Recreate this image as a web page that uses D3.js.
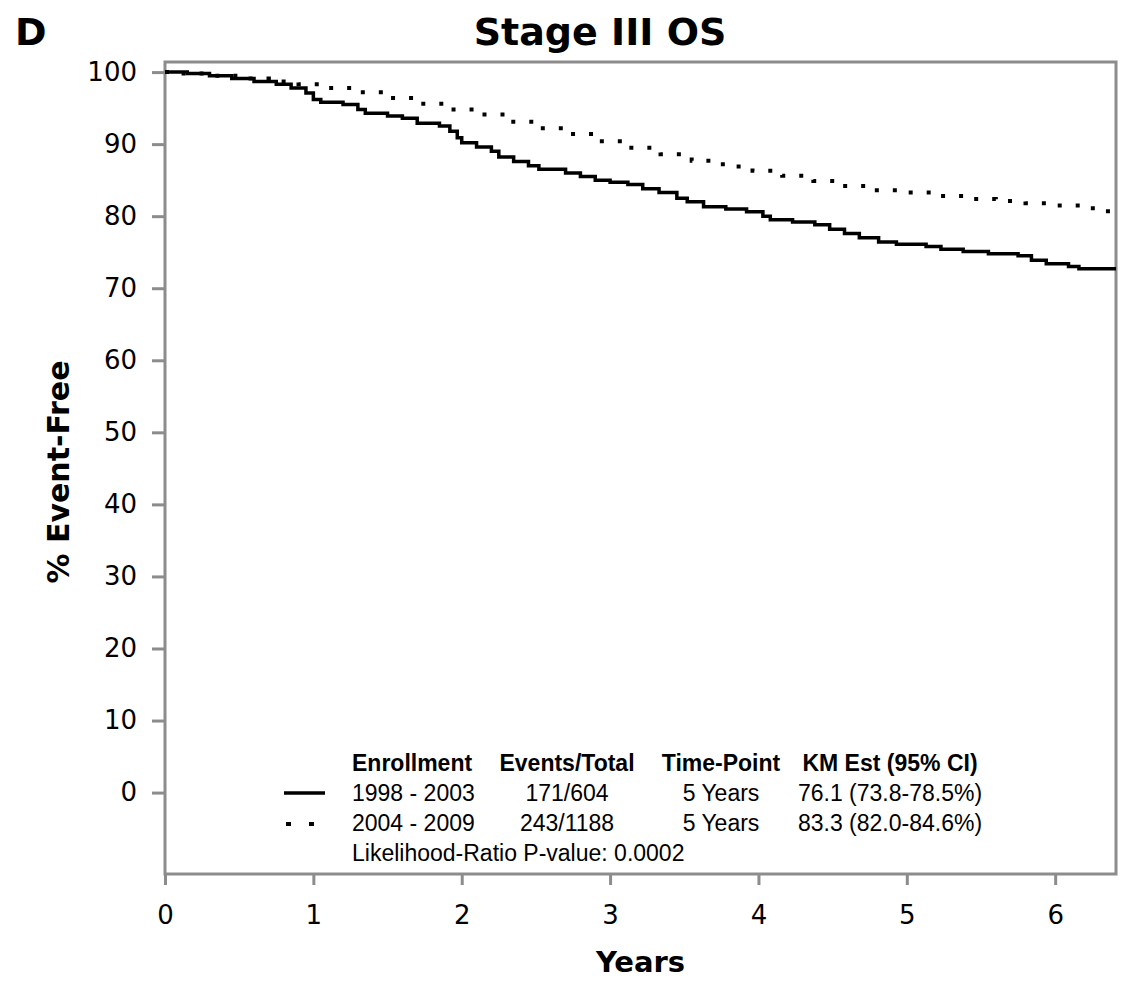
<!DOCTYPE html>
<html>
<head>
<meta charset="utf-8">
<script src="https://cdn.jsdelivr.net/npm/d3@7/dist/d3.min.js"></script>
<style>
  html, body { margin: 0; padding: 0; background: #fff; }
  svg { display: block; }
  .legend text { font-family: "Liberation Sans", Arial, sans-serif; font-size: 23px; fill: #000; }
</style>
</head>
<body>
<svg id="chart" width="1131" height="990"></svg>
<script>
// ===== DATA =====
// 1998 - 2003 cohort, KM step points: years / % event-free
const early_t = [0, 0.15, 0.3, 0.45, 0.6, 0.75, 0.85, 0.95, 1.0, 1.05, 1.2, 1.3, 1.35, 1.5, 1.6, 1.7, 1.85, 1.92, 1.97, 2.0,
                 2.1, 2.2, 2.25, 2.35, 2.45, 2.52, 2.7, 2.8, 2.9, 3.0, 3.12, 3.22, 3.33, 3.45, 3.52, 3.63, 3.78, 3.92, 4.03, 4.08,
                 4.23, 4.38, 4.48, 4.58, 4.68, 4.81, 4.93, 5.13, 5.23, 5.38, 5.55, 5.75, 5.84, 5.94, 6.09, 6.16, 6.41];
const early_s = [100, 99.8, 99.5, 99.1, 98.7, 98.3, 97.8, 97.1, 96.2, 95.8, 95.5, 94.8, 94.3, 93.9, 93.6, 92.9, 92.5, 91.8, 90.9, 90.2,
                 89.6, 89.0, 88.2, 87.6, 87.0, 86.5, 86.0, 85.5, 85.0, 84.7, 84.4, 83.8, 83.3, 82.5, 82.0, 81.3, 81.0, 80.6, 80.0, 79.5,
                 79.2, 78.8, 78.2, 77.6, 77.0, 76.4, 76.1, 75.8, 75.4, 75.1, 74.8, 74.5, 73.9, 73.4, 73.0, 72.7, 72.7];
// 2004 - 2009 cohort
const late_t = [0, 0.1, 0.3, 0.5, 0.7, 0.9, 1.1, 1.3, 1.5, 1.7, 1.9, 2.1, 2.3, 2.5, 2.7, 2.9, 3.12, 3.34,
                3.55, 3.76, 3.96, 4.16, 4.37, 4.57, 4.78, 4.98, 5.19, 5.39, 5.6, 5.8, 6.0, 6.2, 6.32, 6.41];
const late_s = [100, 99.8, 99.5, 99.1, 98.7, 98.3, 97.8, 97.2, 96.4, 95.6, 94.8, 94.1, 93.1, 92.2, 91.4, 90.4, 89.5, 88.6,
                87.7, 86.9, 86.3, 85.6, 84.9, 84.2, 83.6, 83.3, 82.8, 82.4, 82.1, 81.8, 81.5, 81.1, 80.7, 80.5];

const xTicks = [0, 1, 2, 3, 4, 5, 6];
const yTicks = [0, 10, 20, 30, 40, 50, 60, 70, 80, 90, 100];

const legendHeader = ['Enrollment', 'Events/Total', 'Time-Point', 'KM Est (95% CI)'];
const legendRows = [
  ['1998 - 2003', '171/604', '5 Years', '76.1 (73.8-78.5%)'],
  ['2004 - 2009', '243/1188', '5 Years', '83.3 (82.0-84.6%)']
];
const pValueText = 'Likelihood-Ratio P-value: 0.0002';

// ===== LAYOUT =====
const W = 1131, H = 990;
const M = { left: 165, right: 15, top: 62, bottom: 116 };
const AXIS_GREY = '#8c8c8c';
const MAIN_FONT = '"DejaVu Sans", Verdana, sans-serif';

const svg = d3.select('#chart');

const x = d3.scaleLinear().domain([0, 6.41]).range([M.left, W - M.right]);
const y = d3.scaleLinear().domain([-11.3, 101.4]).range([H - M.bottom, M.top]);

// ----- axes -----
const yAxis = d3.axisLeft(y).tickValues(yTicks).tickSizeInner(13).tickSizeOuter(0).tickPadding(15);
const xAxis = d3.axisBottom(x).tickValues(xTicks).tickFormat(d3.format('d'))
  .tickSizeInner(11).tickSizeOuter(0).tickPadding(21);

const gy = svg.append('g').attr('transform', `translate(${M.left},0)`).call(yAxis);
const gx = svg.append('g').attr('transform', `translate(0,${H - M.bottom})`).call(xAxis);

[gy, gx].forEach(g => {
  g.select('.domain').remove();
  g.selectAll('.tick line').attr('stroke', AXIS_GREY).attr('stroke-width', 3);
  g.selectAll('.tick text')
    .attr('fill', '#000')
    .style('font-family', MAIN_FONT)
    .style('font-size', '26px');
});

// plot frame
svg.append('rect')
  .attr('x', M.left)
  .attr('y', M.top)
  .attr('width', W - M.right - M.left)
  .attr('height', H - M.bottom - M.top)
  .attr('fill', 'none')
  .attr('stroke', AXIS_GREY)
  .attr('stroke-width', 3);

// ----- curves -----
const line = d3.line()
  .x(d => x(d[0]))
  .y(d => y(d[1]))
  .curve(d3.curveStepAfter);

const earlyPts = early_t.map((t, i) => [t, early_s[i]]);
const latePts  = late_t.map((t, i) => [t, late_s[i]]);

svg.append('path')
  .datum(latePts)
  .attr('d', line)
  .attr('fill', 'none')
  .attr('stroke', '#000')
  .attr('stroke-width', 4)
  .attr('stroke-dasharray', '4 14');

svg.append('path')
  .datum(earlyPts)
  .attr('d', line)
  .attr('fill', 'none')
  .attr('stroke', '#000')
  .attr('stroke-width', 3.5);

// ----- titles -----
svg.append('text')
  .attr('x', 15).attr('y', 45)
  .style('font-family', MAIN_FONT).style('font-weight', 'bold').style('font-size', '38px')
  .text('D');

svg.append('text')
  .attr('x', 600).attr('y', 45)
  .attr('text-anchor', 'middle')
  .style('font-family', MAIN_FONT).style('font-weight', 'bold').style('font-size', '38px')
  .text('Stage III OS');

svg.append('text')
  .attr('transform', `translate(69,${(M.top + H - M.bottom) / 2 + 4}) rotate(-90)`)
  .attr('text-anchor', 'middle')
  .style('font-family', MAIN_FONT).style('font-weight', 'bold').style('font-size', '30px')
  .text('% Event-Free');

svg.append('text')
  .attr('x', (M.left + W - M.right) / 2).attr('y', 972)
  .attr('text-anchor', 'middle')
  .style('font-family', MAIN_FONT).style('font-weight', 'bold').style('font-size', '29px')
  .text('Years');

// ----- legend -----
const legend = svg.append('g').attr('class', 'legend');
const colX = [352, 567, 721, 890];
const colAnchor = ['start', 'middle', 'middle', 'middle'];
const rowY = [771, 801, 831, 861];

legend.selectAll('text.head')
  .data(legendHeader)
  .enter()
  .append('text')
  .attr('class', 'head')
  .attr('x', (d, i) => colX[i])
  .attr('y', rowY[0])
  .attr('text-anchor', (d, i) => colAnchor[i])
  .style('font-weight', 'bold')
  .text(d => d);

legendRows.forEach((row, r) => {
  legend.selectAll(`text.row${r}`)
    .data(row)
    .enter()
    .append('text')
    .attr('class', `row${r}`)
    .attr('x', (d, i) => colX[i])
    .attr('y', rowY[r + 1])
    .attr('text-anchor', (d, i) => colAnchor[i])
    .text(d => d);
});

legend.append('text')
  .attr('x', colX[0]).attr('y', rowY[3])
  .text(pValueText);

// legend line samples
legend.append('line')
  .attr('x1', 284).attr('x2', 325)
  .attr('y1', rowY[1] - 8).attr('y2', rowY[1] - 8)
  .attr('stroke', '#000').attr('stroke-width', 3.5);

legend.append('line')
  .attr('x1', 286).attr('x2', 315)
  .attr('y1', rowY[2] - 7).attr('y2', rowY[2] - 7)
  .attr('stroke', '#000').attr('stroke-width', 4)
  .attr('stroke-dasharray', '5 18');
</script>
</body>
</html>
